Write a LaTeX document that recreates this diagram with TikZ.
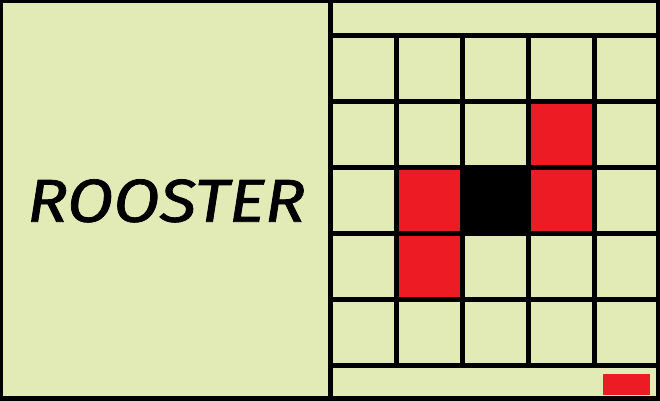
\documentclass[tikz,border=0pt]{standalone}
\usepackage{fontspec}
\setmainfont{Fira Sans}
\newfontfamily\titlefont[FakeBold=1.2]{Fira Sans}
\usepackage{graphicx}
\definecolor{bggreen}{RGB}{226,235,182}
\definecolor{cellred}{RGB}{237,28,36}
\tikzset{
  gridline/.style={line width=5*0.75pt, black},
  redcell/.style={fill=cellred},
  blackcell/.style={fill=black},
}
\begin{document}
\begin{tikzpicture}[x=0.75pt,y=-0.75pt]
\useasboundingbox (0,0) rectangle (660,400);
\fill[bggreen] (0,0) rectangle (660,400);
% coloured cells
\fill[redcell] (396.5,167.5) rectangle (462.5,233.5);
\fill[redcell] (396.5,233.5) rectangle (462.5,299.5);
\fill[redcell] (528.5,101.5) rectangle (594.5,167.5);
\fill[redcell] (528.5,167.5) rectangle (594.5,233.5);
\fill[blackcell] (462.5,167.5) rectangle (528.5,233.5);
\fill[redcell] (603,374) rectangle (650,395);
% outer frame and divider
\draw[gridline] (0.2,0.2) rectangle (658,398.5);
\draw[gridline] (330.5,0) -- (330.5,400);
\draw[gridline] (330.5,35.5) -- (660,35.5);
\draw[gridline] (330.5,365.5) -- (660,365.5);
\foreach \x in {396.5,462.5,528.5,594.5}
  \draw[gridline] (\x,35.5) -- (\x,365.5);
\foreach \y in {101.5,167.5,233.5,299.5}
  \draw[gridline] (330.5,\y) -- (660,\y);
% title
\node[anchor=base west, inner sep=0pt] (title) at (27,221.7)
  {\resizebox{208.5pt}{31.8pt}{\fontsize{44.6}{50}\selectfont\titlefont\itshape ROOSTER}};
\end{tikzpicture}
\end{document}
